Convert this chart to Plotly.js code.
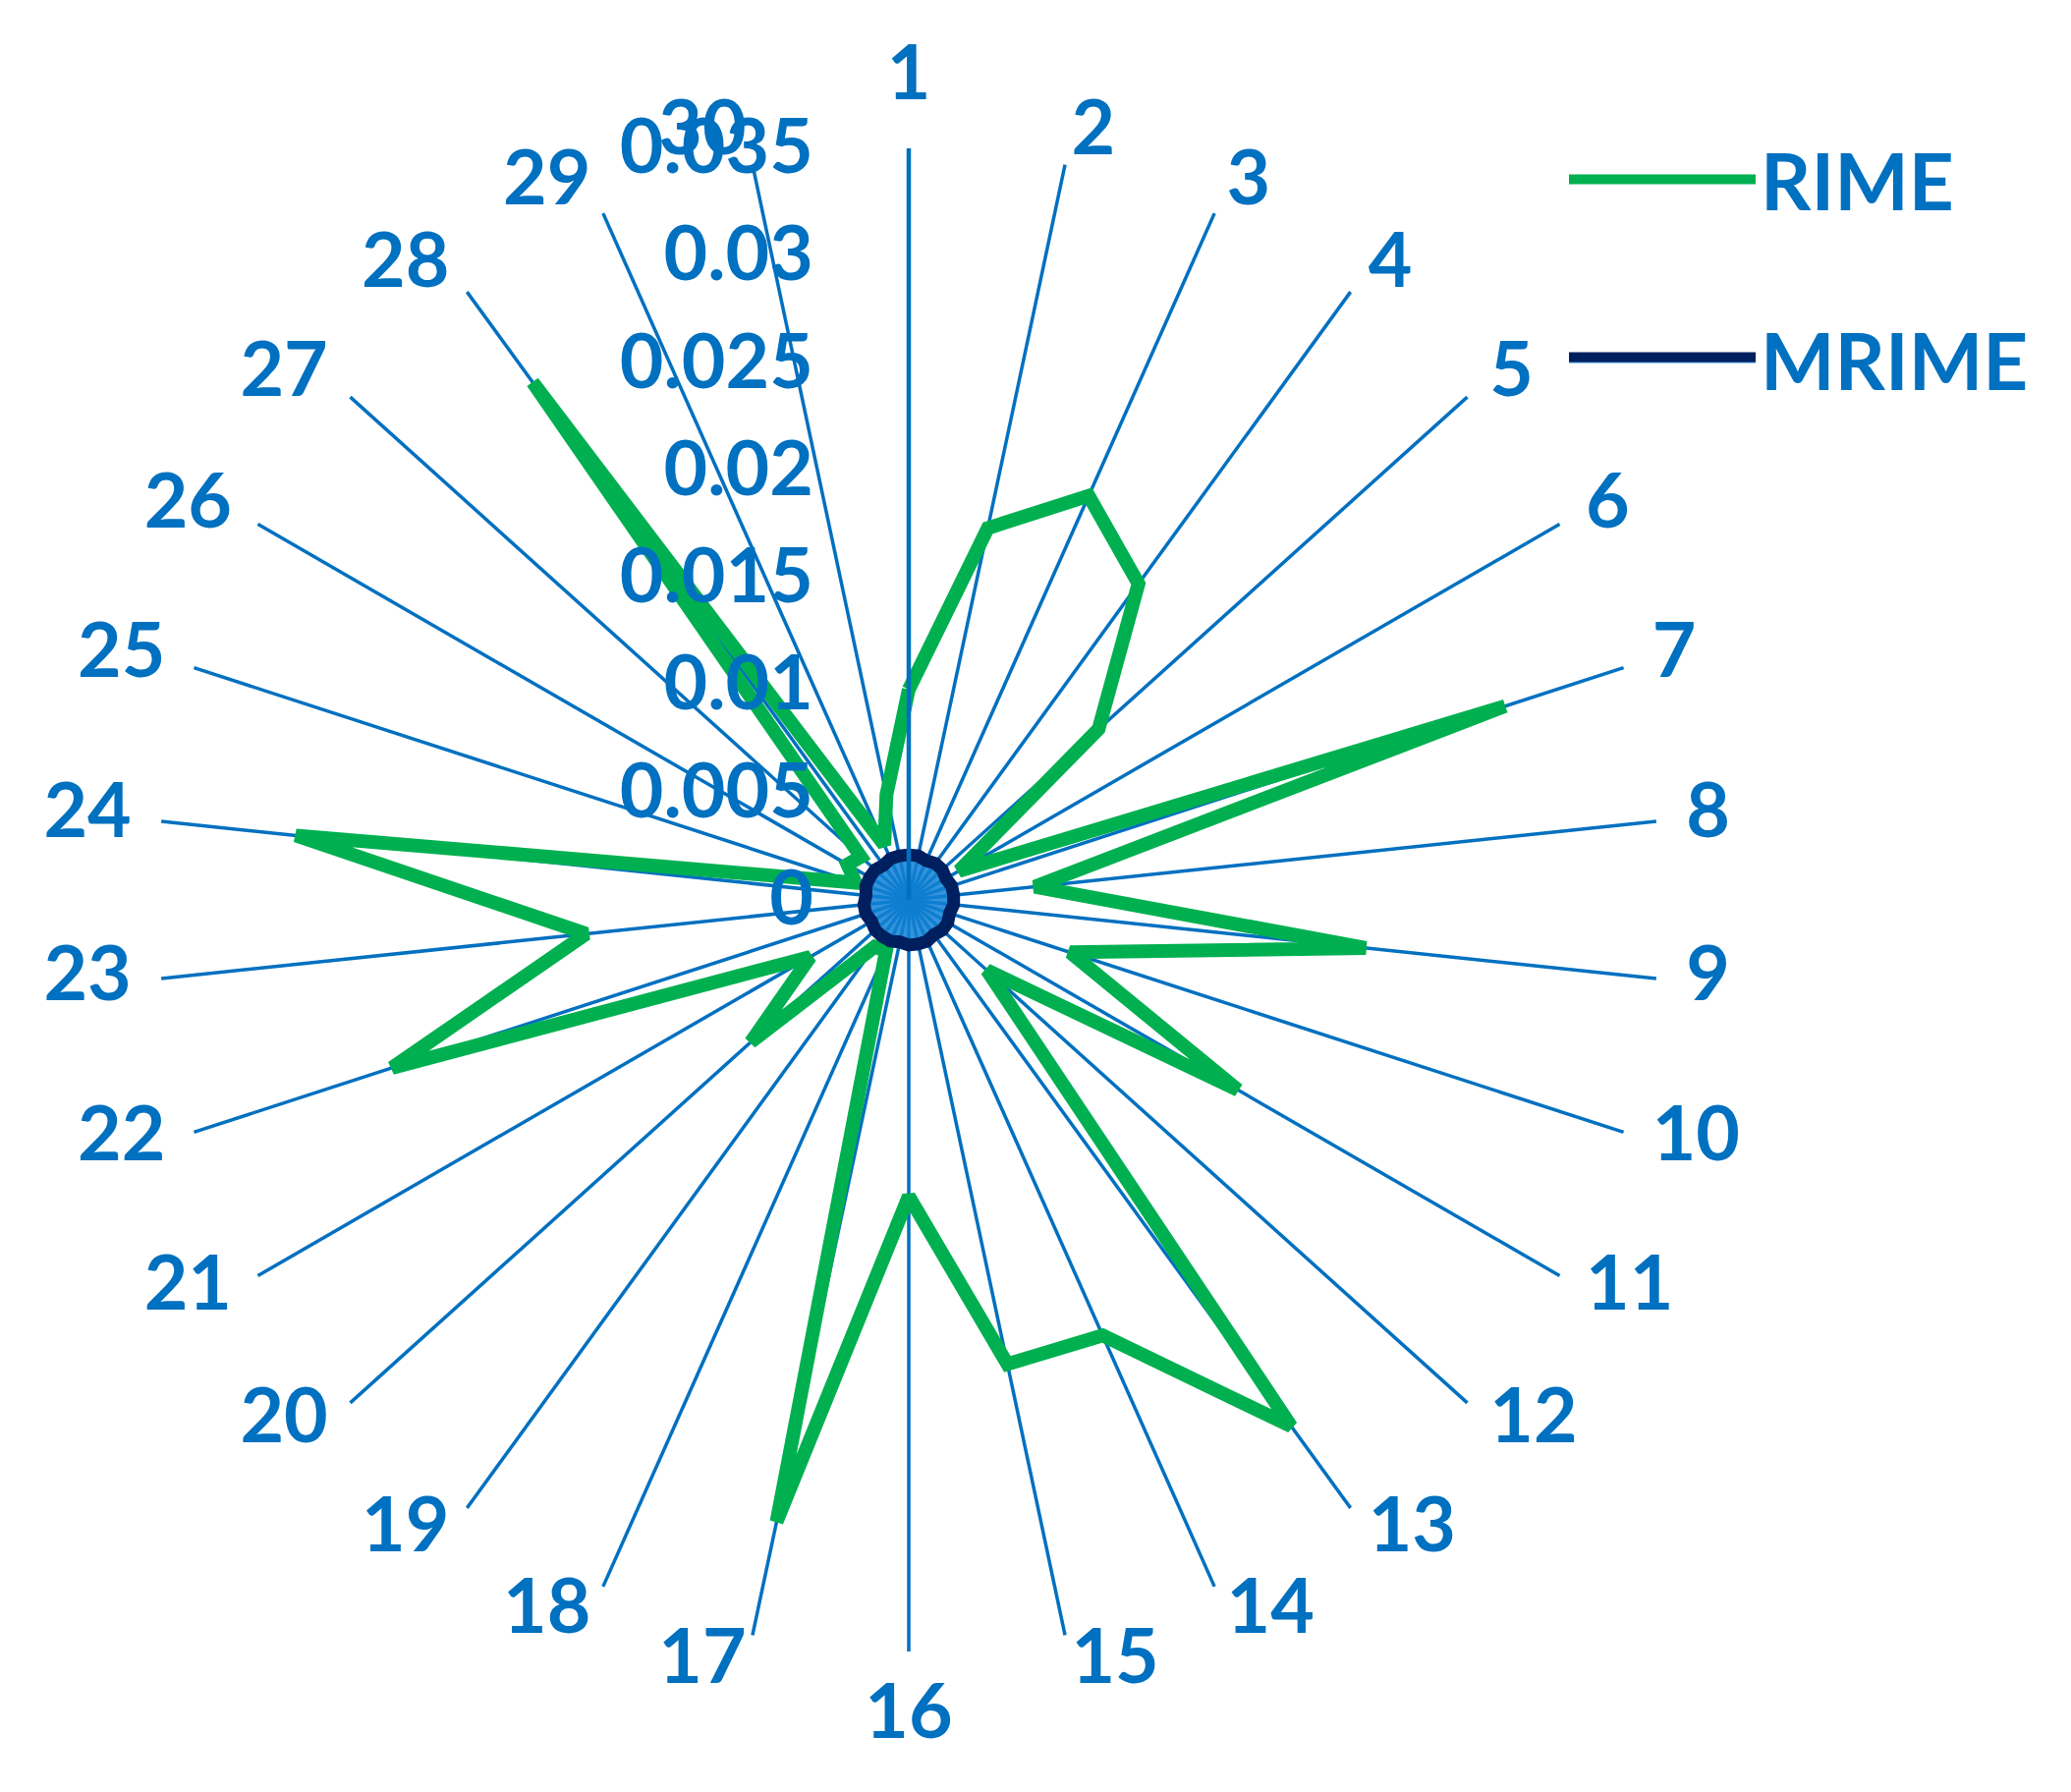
<!DOCTYPE html>
<html>
<head>
<meta charset="utf-8">
<script src="https://cdn.plot.ly/plotly-3.0.1.min.js"></script>
<style>html,body{margin:0;padding:0;background:#fff;}#chart{width:2108px;height:1824px;}</style>
</head>
<body>
<div id="chart"></div>
<script>
// Categories (spokes) 1..30
var categories = ["1","2","3","4","5","6","7","8","9","10","11","12","13","14","15","16","17","18","19","20","21","22","23","24","25","26","27","28","29","30"];
// RIME series values
var rimeValues = [0.0098,0.0177,0.0206,0.0182,0.0119,0.0027,0.0292,0.0059,0.0214,0.0079,0.0177,0.0049,0.0303,0.0222,0.0221,0.0138,0.0296,0.0026,0.0027,0.0099,0.0053,0.0253,0.0151,0.0287,0.0026,0.0033,0.0030,0.0298,0.0028,0.0050];
// MRIME series values (small ring near the centre)
var mrimeValues = [0.0021,0.0021,0.0020,0.0021,0.0021,0.0020,0.0021,0.0021,0.0021,0.0020,0.0021,0.0021,0.0020,0.0021,0.0021,0.0021,0.0020,0.0021,0.0021,0.0021,0.0020,0.0021,0.0021,0.0020,0.0021,0.0021,0.0021,0.0020,0.0021,0.0021];
var seriesNames = ["RIME","MRIME"];
var radialTicks = [0,0.005,0.01,0.015,0.02,0.025,0.03,0.035];
var radialTickText = ["0","0.005","0.01","0.015","0.02","0.025","0.03","0.035"];
var radialMax = 0.035;

function closed(arr){ return arr.concat([arr[0]]); }

var BLUE = "#0070C0";
var FONT = "Lato, 'Open Sans', 'DejaVu Sans', sans-serif";
var TICK_SIZE = 77;

// geometry of the chart area (pixels)
var W = 2108, H = 1824, CX = 925, CY = 916, R = 765;
// outer label ring: a second, invisible polar frame sharing the centre
var LABEL_SCALE = 1.15;
var R2 = R * LABEL_SCALE;

var n = categories.length;
var labelR = categories.map(function(){ return radialMax * 1.04; });
var labelPos = categories.map(function(c, i){
  if (i === 0) return "top center";
  if (i * 2 === n) return "bottom center";
  return i < n / 2 ? "middle right" : "middle left";
});

var traces = [
  {
    type: "scatterpolar",
    subplot: "polar",
    name: seriesNames[0],
    r: closed(rimeValues),
    theta: closed(categories),
    mode: "lines",
    line: {color: "#00B050", width: 14},
    legendgroup: "a",
    hoverinfo: "skip"
  },
  {
    type: "scatterpolar",
    subplot: "polar",
    name: seriesNames[1],
    r: closed(mrimeValues),
    theta: closed(categories),
    mode: "lines",
    fill: "toself",
    fillcolor: "rgba(16,128,212,0.85)",
    line: {color: "#001F5F", width: 13},
    legendgroup: "b",
    hoverinfo: "skip"
  },
  {
    type: "scatterpolar",
    subplot: "polar2",
    r: labelR,
    theta: categories,
    mode: "text",
    text: categories,
    textposition: labelPos,
    textfont: {family: FONT, color: BLUE, size: TICK_SIZE, weight: 700},
    cliponaxis: false,
    showlegend: false,
    hoverinfo: "skip"
  }
];

var layout = {
  width: W,
  height: H,
  autosize: false,
  margin: {l: 0, r: 0, t: 0, b: 0, pad: 0},
  paper_bgcolor: "#ffffff",
  plot_bgcolor: "#ffffff",
  font: {family: FONT, color: BLUE, size: TICK_SIZE, weight: 700},
  showlegend: true,
  legend: {
    x: 1592/W, xanchor: "left",
    y: 1 - 124/H, yanchor: "top",
    font: {family: FONT, color: BLUE, size: 80, weight: 700},
    bgcolor: "rgba(0,0,0,0)",
    itemwidth: 190,
    tracegroupgap: 76,
    traceorder: "grouped"
  },
  polar: {
    domain: {x: [(CX - R)/W, (CX + R)/W], y: [(H - CY - R)/H, (H - CY + R)/H]},
    bgcolor: "rgba(0,0,0,0)",
    angularaxis: {
      type: "category",
      categoryarray: categories,
      rotation: 90,
      direction: "clockwise",
      showline: false,
      showgrid: true,
      gridcolor: BLUE,
      gridwidth: 3.5,
      ticks: "",
      showticklabels: false
    },
    radialaxis: {
      range: [0, radialMax],
      angle: 90,
      side: "counterclockwise",
      tickangle: 90,
      tickvals: radialTicks,
      ticktext: radialTickText,
      showgrid: false,
      showline: true,
      linecolor: BLUE,
      linewidth: 4.5,
      ticks: "outside",
      ticklen: 68,
      tickcolor: "rgba(0,0,0,0)",
      tickfont: {family: FONT, color: BLUE, size: TICK_SIZE, weight: 700}
    }
  },
  polar2: {
    domain: {x: [(CX - R2)/W, (CX + R2)/W], y: [(H - CY - R2)/H, (H - CY + R2)/H]},
    bgcolor: "rgba(0,0,0,0)",
    angularaxis: {
      type: "category",
      categoryarray: categories,
      rotation: 90,
      direction: "clockwise",
      visible: false
    },
    radialaxis: {
      range: [0, radialMax * LABEL_SCALE],
      visible: false
    }
  }
};

Plotly.newPlot("chart", traces, layout, {displayModeBar: false, staticPlot: true});
</script>
</body>
</html>
